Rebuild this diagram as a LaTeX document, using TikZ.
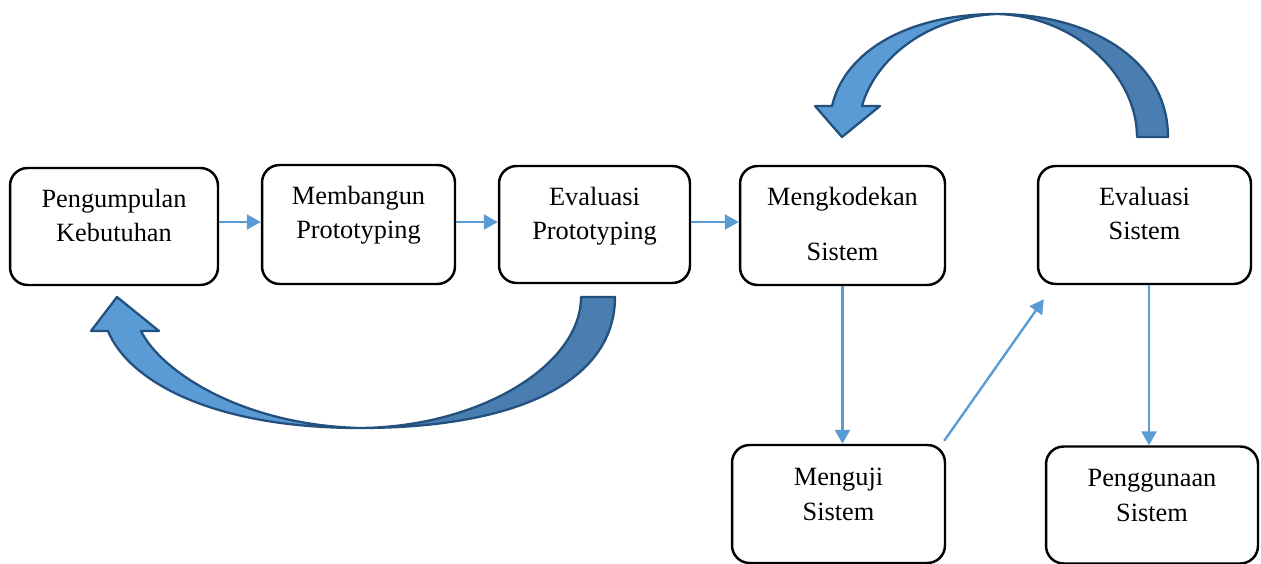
\documentclass[tikz,border=0pt]{standalone}
\usepackage{fontspec}
\setmainfont{Liberation Serif}
\usetikzlibrary{arrows.meta,positioning,calc}
\definecolor{flowBlue}{HTML}{5B9BD5}
\definecolor{arcLight}{HTML}{5B9BD5}
\definecolor{arcDark}{HTML}{4A7EB0}
\definecolor{arcEdge}{HTML}{23507D}

\begin{document}
\begin{tikzpicture}[x=0.02cm,y=-0.02cm,
    stage/.style={draw=black,line width=1.4pt,rounded corners=10pt,fill=white,
                  inner sep=0pt},
    note/.style={font=\fontsize{15pt}{19.6pt}\selectfont,align=center,
                 inner sep=0pt,anchor=north},
    flow/.style={draw=flowBlue,line width=1.35pt,
                 -{Triangle[length=0.28cm,width=0.3cm]}},
    arc/.style={draw=arcEdge,line width=1.3pt,line join=round}]

  \useasboundingbox (0,0) rectangle (1261,564);

  % return arrow below the first row
  \filldraw[arc,fill=arcDark] (581,297) -- (615,297)
    .. controls (615,380) and (520,428) .. (360,428)
    .. controls (480,427) and (581,365) .. (581,297) -- cycle;
  \filldraw[arc,fill=arcLight] (360,428)
    .. controls (210,428) and (128,380) .. (108,331)
    -- (91,331) -- (117,297) -- (159,331) -- (141,331)
    .. controls (160,370) and (240,425) .. (360,428) -- cycle;

  % return arrow above the second part
  \filldraw[arc,fill=arcDark] (1137,137) -- (1168,137)
    .. controls (1168,60) and (1090,14) .. (997,14)
    .. controls (1075,16) and (1137,75) .. (1137,137) -- cycle;
  \filldraw[arc,fill=arcLight] (997,14)
    .. controls (910,14) and (845,50) .. (832,106)
    -- (815,106) -- (842,137) -- (880,106) -- (862,106)
    .. controls (875,60) and (925,17) .. (997,14) -- cycle;

  \node[stage,minimum width=4.16cm,minimum height=2.34cm] (pengumpulan) at (114,226.5) {};
  \node[stage,minimum width=3.86cm,minimum height=2.38cm] (membangun) at (358.5,224.5) {};
  \node[stage,minimum width=3.82cm,minimum height=2.34cm] (evalProto) at (594.5,224.5) {};
  \node[stage,minimum width=4.10cm,minimum height=2.38cm] (mengkodekan) at (842.5,225.5) {};
  \node[stage,minimum width=4.26cm,minimum height=2.36cm] (evalSistem) at (1144.5,225) {};
  \node[stage,minimum width=4.26cm,minimum height=2.36cm] (menguji) at (838.5,504) {};
  \node[stage,minimum width=4.24cm,minimum height=2.34cm] (penggunaan) at (1152,505) {};

  \node[note] (tPengumpulan) at ($(pengumpulan.north)+(0,22)$) {Pengumpulan\\Kebutuhan};
  \node[note] (tMembangun) at ($(membangun.north)+(0,22)$) {Membangun\\Prototyping};
  \node[note] (tEvalProto) at ($(evalProto.north)+(0,22)$) {Evaluasi\\Prototyping};
  \node[note] (tMengkodekan) at ($(mengkodekan.north)+(0,22)$) {Mengkodekan\\[0.42cm]Sistem};
  \node[note] (tEvalSistem) at ($(evalSistem.north)+(0,22)$) {Evaluasi\\Sistem};
  \node[note] (tMenguji) at ($(menguji.north)+(0,24)$) {Menguji\\Sistem};
  \node[note] (tPenggunaan) at ($(penggunaan.north)+(0,24)$) {Penggunaan\\Sistem};

  \coordinate (row) at (0,222);
  \draw[flow] (pengumpulan.east |- row) -- (membangun.west |- row);
  \draw[flow] (membangun.east |- row) -- (evalProto.west |- row);
  \draw[flow] (evalProto.east |- row) -- (mengkodekan.west |- row);
  \draw[flow] (mengkodekan.south) -- (mengkodekan.south |- menguji.north);
  \draw[flow] ([shift={(-2,-3)}]menguji.north east) -- ([shift={(7,14)}]evalSistem.south west);
  \draw[flow] ([xshift=0.09cm]evalSistem.south) -- ([xshift=0.09cm]evalSistem.south |- penggunaan.north);
\end{tikzpicture}
\end{document}
